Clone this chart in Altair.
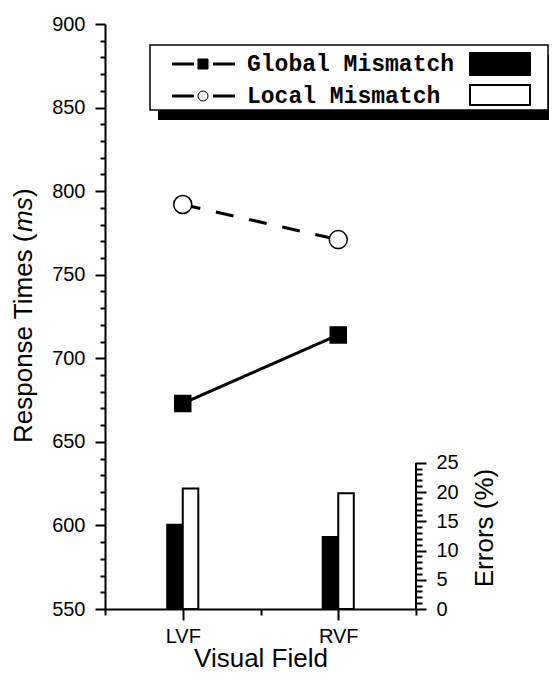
import altair as alt
import pandas as pd

# ---------------- data ----------------
fields = ["LVF", "RVF"]
series = ["Global Mismatch", "Local Mismatch"]
rt_global = [673, 714]
rt_local = [792, 771]
err_global = [14.4, 12.3]
err_local = [20.6, 19.8]
rt_ticks = list(range(550, 901, 10))
err_ticks = list(range(0, 26, 1))
x_ticks = [0.5, 1, 1.5, 2, 2.5]

W, H = 311, 585
BW = 0.1
FONT = "Liberation Sans"

pos = [i + 1 for i in range(len(fields))]

rt_df = pd.DataFrame({
    "field": fields * 2,
    "pos": pos * 2,
    "rt": rt_global + rt_local,
    "series": [series[0]] * 2 + [series[1]] * 2,
})

err_df = pd.DataFrame({
    "field": fields * 2,
    "pos": pos * 2,
    "err": err_global + err_local,
    "series": [series[0]] * 2 + [series[1]] * 2,
})
err_df["x0"] = [p - BW if s == series[0] else p for p, s in zip(err_df["pos"], err_df["series"])]
err_df["x1"] = [p if s == series[0] else p + BW for p, s in zip(err_df["pos"], err_df["series"])]

one = pd.DataFrame({"a": [0]})

# ---------------- scales / axes ----------------
x_scale = alt.Scale(domain=[x_ticks[0], x_ticks[-1]], nice=False, zero=False)
rt_scale = alt.Scale(domain=[rt_ticks[0], rt_ticks[-1]], nice=False, zero=False)
err_scale = alt.Scale(domain=[0, 100], nice=False)

x_axis = alt.Axis(
    values=x_ticks,
    labelExpr="datum.value === 1 ? 'LVF' : (datum.value === 2 ? 'RVF' : '')",
    tickSize={"condition": {"test": "datum.value % 1 === 0", "value": 11}, "value": 6},
    title="Visual Field", titleFont=FONT, titleFontSize=26, titleFontWeight="normal",
    titleY=57, titleBaseline="alphabetic", titleColor="black",
    labelFont=FONT, labelFontSize=20, labelPadding=6, labelColor="black",
    labelOverlap=False, labelFlush=False,
    domainWidth=2, domainColor="black", tickWidth=2, tickColor="black", grid=False,
)

rt_axis = alt.Axis(
    orient="left", values=rt_ticks,
    labelExpr="datum.value % 50 === 0 ? datum.label : ''",
    tickSize={"condition": {"test": "datum.value % 50 === 0", "value": 10}, "value": 5},
    title=None, labelFont=FONT, labelFontSize=20, labelPadding=10, labelColor="black",
    labelOverlap=False, labelFlush=False,
    domainWidth=2, domainColor="black", tickWidth=2, tickColor="black", grid=False,
)

err_axis = alt.Axis(
    orient="right", values=err_ticks,
    labelExpr="datum.value % 5 === 0 ? datum.label : ''",
    tickSize={"condition": {"test": "datum.value % 5 === 0", "value": 10}, "value": 6},
    title=None, labelFont=FONT, labelFontSize=20, labelPadding=10, labelColor="black",
    labelOverlap=False, labelFlush=False, domain=False,
    tickWidth=2, tickColor="black", grid=False,
)

shape_scale = alt.Scale(domain=series, range=["square", "circle"])
fill_scale = alt.Scale(domain=series, range=["black", "white"])
size_scale = alt.Scale(domain=series, range=[256, 324])
dash_scale = alt.Scale(domain=series, range=[[1, 0], [18, 16]])

# ---------------- response-time lines ----------------
lines = alt.Chart(rt_df).mark_line(color="black", strokeWidth=3).encode(
    x=alt.X("pos:Q", scale=x_scale, axis=x_axis),
    y=alt.Y("rt:Q", scale=rt_scale, axis=rt_axis),
    strokeDash=alt.StrokeDash("series:N", scale=dash_scale, legend=None),
    detail="series:N",
)
points = alt.Chart(rt_df).mark_point(filled=True, stroke="black", strokeWidth=1.5, opacity=1).encode(
    x=alt.X("pos:Q", scale=x_scale, axis=x_axis),
    y=alt.Y("rt:Q", scale=rt_scale, axis=rt_axis),
    shape=alt.Shape("series:N", scale=shape_scale, legend=None),
    fill=alt.Fill("series:N", scale=fill_scale, legend=None),
    size=alt.Size("series:N", scale=size_scale, legend=None),
)
rt_layer = alt.layer(lines, points)

# ---------------- error bars ----------------
bars = alt.Chart(err_df).mark_rect(stroke="black", strokeWidth=2).encode(
    x=alt.X("x0:Q", scale=x_scale, axis=x_axis),
    x2="x1:Q",
    y=alt.Y("err:Q", scale=err_scale, axis=err_axis),
    y2=alt.datum(0),
    fill=alt.Fill("series:N", scale=fill_scale, legend=None),
)
err_line = alt.Chart(pd.DataFrame({"lo": [err_ticks[0]], "hi": [err_ticks[-1]]})).mark_rule(
    color="black", strokeWidth=2
).encode(
    x=alt.value(W),
    y=alt.Y("lo:Q", scale=err_scale, axis=err_axis),
    y2="hi:Q",
)
err_layer = alt.layer(bars, err_line)

# ---------------- axis titles ----------------
title_parts = [("Response Times (", "normal", 419), ("ms", "italic", 208), (")", "normal", 173)]
title_layers = [
    alt.Chart(one).mark_text(angle=270, align="left", baseline="alphabetic", font=FONT,
                             fontSize=26, fontStyle=st, color="black").encode(
        x=alt.value(-73), y=alt.value(yy), text=alt.value(txt))
    for txt, st, yy in title_parts
]
err_title = alt.Chart(one).mark_text(angle=270, align="center", baseline="alphabetic", font=FONT,
                                     fontSize=26, color="black").encode(
    x=alt.value(388), y=alt.value(504), text=alt.value("Errors (%)"))

# ---------------- legend ----------------
leg_df = pd.DataFrame({"series": series})
leg_layers = [
    alt.Chart(one).mark_rect(color="black").encode(
        x=alt.value(53), x2=alt.value(451), y=alt.value(31), y2=alt.value(96)),
    alt.Chart(one).mark_rect(fill="white", stroke="black", strokeWidth=1.5).encode(
        x=alt.value(45), x2=alt.value(443), y=alt.value(21), y2=alt.value(86)),
]
row_y = [40, 72]
sw_y = [(29, 51), (61, 81)]
for i, s in enumerate(series):
    d = leg_df[leg_df["series"] == s]
    yc = row_y[i]
    leg_layers += [
        alt.Chart(one).mark_rule(color="black", strokeWidth=3).encode(
            x=alt.value(67), x2=alt.value(89), y=alt.value(yc)),
        alt.Chart(one).mark_rule(color="black", strokeWidth=3).encode(
            x=alt.value(108), x2=alt.value(130), y=alt.value(yc)),
        alt.Chart(d).mark_point(filled=True, stroke="black", strokeWidth=1, opacity=1, size=100).encode(
            x=alt.value(98), y=alt.value(yc),
            shape=alt.Shape("series:N", scale=shape_scale, legend=None),
            fill=alt.Fill("series:N", scale=fill_scale, legend=None)),
        alt.Chart(d).mark_text(font="Liberation Mono", fontWeight="bold", fontSize=23,
                               align="left", baseline="middle", color="black").encode(
            x=alt.value(142), y=alt.value(yc), text="series:N"),
        alt.Chart(d).mark_rect(stroke="black", strokeWidth=2).encode(
            x=alt.value(365), x2=alt.value(425), y=alt.value(sw_y[i][0]), y2=alt.value(sw_y[i][1]),
            fill=alt.Fill("series:N", scale=fill_scale, legend=None)),
    ]

chart = alt.layer(rt_layer, err_layer, *title_layers, err_title, *leg_layers).resolve_scale(
    y="independent"
).properties(
    width=W, height=H,
    padding={"left": 97, "top": 16, "right": 133, "bottom": 63},
    autosize=alt.AutoSizeParams(type="none"),
    background="white",
).configure_view(stroke=None)

chart.save("out.html", embed_options={"renderer": "svg", "actions": False})
